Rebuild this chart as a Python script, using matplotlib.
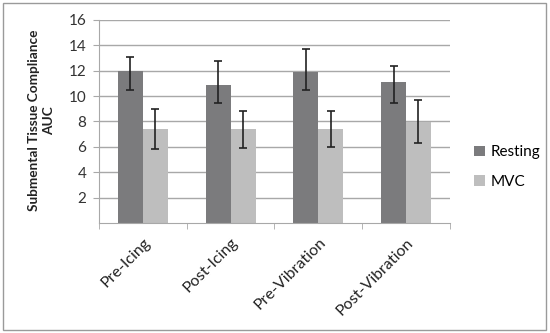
import numpy as np
import matplotlib
matplotlib.use('Agg')
import matplotlib.pyplot as plt
from matplotlib.patches import Rectangle

plt.rcParams['font.family'] = ['Lato', 'DejaVu Sans']

categories = ['Pre-Icing', 'Post-Icing', 'Pre-Vibration', 'Post-Vibration']
resting = [12.0, 10.9, 11.87, 11.13]
resting_hi = [13.1, 12.78, 13.73, 12.37]
resting_lo = [10.48, 9.48, 10.48, 9.46]
mvc = [7.39, 7.39, 7.41, 7.99]
mvc_hi = [8.96, 8.85, 8.83, 9.7]
mvc_lo = [5.87, 5.94, 6.02, 6.34]

c_rest = '#7b7b7d'
c_mvc = '#bebebe'
grid_c = '#a8a8a8'

fig = plt.figure(figsize=(5.5, 3.33), dpi=100)
ax = fig.add_axes([0.18, 0.3303, 0.638, 0.6097])

x = np.arange(len(categories))
w = 0.284
r = np.array(resting)
m = np.array(mvc)
err_r = [r - np.array(resting_lo), np.array(resting_hi) - r]
err_m = [m - np.array(mvc_lo), np.array(mvc_hi) - m]

ax.bar(x - w / 2, r, w, color=c_rest, label='Resting', zorder=2)
ax.bar(x + w / 2, m, w, color=c_mvc, label='MVC', zorder=2)
ax.errorbar(x - w / 2, r, yerr=err_r, fmt='none', ecolor='#222222',
            elinewidth=1.2, capsize=3, capthick=1.2, zorder=3)
ax.errorbar(x + w / 2, m, yerr=err_m, fmt='none', ecolor='#222222',
            elinewidth=1.2, capsize=3, capthick=1.2, zorder=3)

ax.set_xlim(-0.5, len(categories) - 0.5)
ax.set_ylim(0, 16)
ax.set_yticks(np.arange(2, 17, 2))
ax.tick_params(axis='y', labelsize=11, length=4, color=grid_c, pad=5,
               labelcolor='#333333')
ax.yaxis.grid(True, color=grid_c, lw=1, zorder=0)
ax.set_axisbelow(True)

ax.set_xticks(x)
ax.set_xticklabels(categories, rotation=45, ha='right',
                   rotation_mode='anchor', fontsize=11.5, color='#222222')
ax.tick_params(axis='x', length=0, pad=9)
ax.set_xticks(np.arange(-0.5, len(categories)), minor=True)
ax.tick_params(axis='x', which='minor', length=4, color=grid_c)

for s in ['top', 'right']:
    ax.spines[s].set_visible(False)
for s in ['left', 'bottom']:
    ax.spines[s].set_color(grid_c)

ax.set_ylabel('Submental Tissue Compliance\nAUC', fontsize=9.8,
              fontweight='bold', color='#222222', linespacing=1.3)
ax.yaxis.set_label_coords(-0.125, 0.505)

fig.legend(loc='center left', bbox_to_anchor=(0.862, 0.4985), frameon=False,
           fontsize=11, handlelength=0.7, handleheight=0.7, borderpad=0,
           borderaxespad=0, handletextpad=0.35, labelspacing=1.0)

fig.patches.append(Rectangle((0.006, 0.009), 0.987, 0.982, transform=fig.transFigure,
                             fill=False, edgecolor='#9a9a9a', lw=1))

fig.savefig('out.png', dpi=100)
